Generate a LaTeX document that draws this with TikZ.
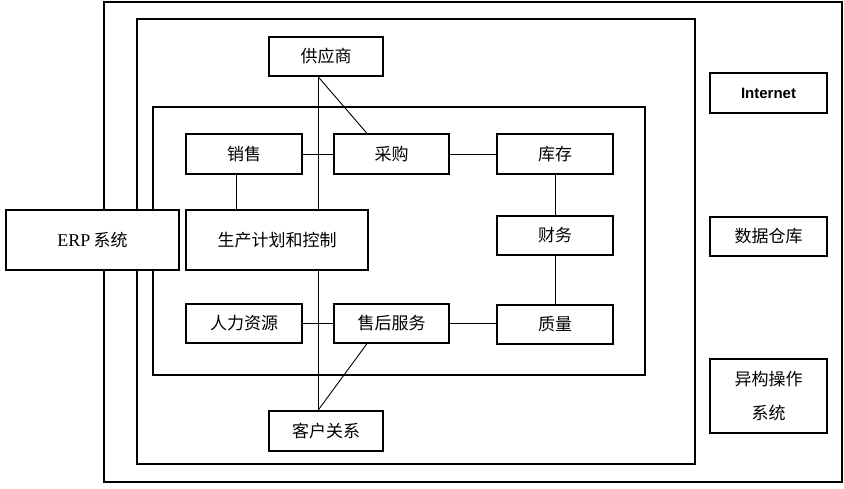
\documentclass[tikz,border=0pt]{standalone}
\usepackage{fontspec}
\setmainfont{Liberation Serif}
\newfontfamily\cjk{Noto Sans CJK SC}
\newfontfamily\latsans{Liberation Sans}
\begin{document}
\begin{tikzpicture}[x=1pt,y=-1pt,
  frame/.style={draw,line width=1.3pt},
  box/.style={draw,line width=1.2pt,fill=white,inner sep=0pt,font=\cjk\fontsize{17}{20}\selectfont},
  link/.style={draw,line width=0.9pt}]
\useasboundingbox (0,0) rectangle (844,488);
% frames
\draw[frame] (104,2) rectangle (842,482);
\draw[frame] (137,19) rectangle (695,464);
\draw[frame] (153,107) rectangle (645,375);
% boxes
\node[box,minimum width=114pt,minimum height=39pt] (sup) at (326,56.5) {供应商};
\node[box,minimum width=116pt,minimum height=40pt] (sales) at (244,154) {销售};
\node[box,minimum width=115pt,minimum height=40pt] (purch) at (391.5,154) {采购};
\node[box,minimum width=116pt,minimum height=40pt] (inv) at (555,154) {库存};
\node[box,minimum width=116pt,minimum height=39pt] (fin) at (555,235.5) {财务};
\node[box,minimum width=116pt,minimum height=39pt] (hr) at (244,323.5) {人力资源};
\node[box,minimum width=115pt,minimum height=39pt] (svc) at (391.5,323.5) {售后服务};
\node[box,minimum width=116pt,minimum height=39pt] (qual) at (555,324.5) {质量};
\node[box,minimum width=114pt,minimum height=40pt] (crm) at (326,431) {客户关系};
\coordinate (v) at (318,0);
\coordinate (d) at (367,0);
\coordinate (s) at (236,0);
% connectors (behind production box)
\draw[link] (sup.south -| v) -- (crm.north -| v);
\draw[link] (sup.south -| v) -- (purch.north -| d);
\draw[link] (svc.south -| d) -- (crm.north -| v);
\draw[link] (sales.east) -- (purch.west);
\draw[link] (purch.east) -- (inv.west);
\draw[link] (inv.south) -- (fin.north);
\draw[link] (fin.south) -- (qual.north);
\draw[link] (hr.east) -- (svc.west);
\draw[link] (svc.east) -- (svc.east -| qual.west);
\node[box,minimum width=182pt,minimum height=60pt] (prod) at (277,240) {生产计划和控制};
\draw[link] (sales.south -| s) -- (prod.north -| s);
\node[box,minimum width=173pt,minimum height=60pt] (erp) at (92.5,240) {\rmfamily\fontsize{18}{20}\selectfont ERP\,\cjk\fontsize{17}{20}\selectfont 系统};
% right side
\node[box,minimum width=117pt,minimum height=40pt,font=\latsans\bfseries\fontsize{15}{17}\selectfont] (inet) at (768.5,93) {Internet};
\node[box,minimum width=117pt,minimum height=39pt] (dw) at (768.5,236.5) {数据仓库};
\node[box,minimum width=117pt,minimum height=74pt,align=center] (os) at (768.5,396) {异构操作\\[14pt]系统};
\end{tikzpicture}
\end{document}
